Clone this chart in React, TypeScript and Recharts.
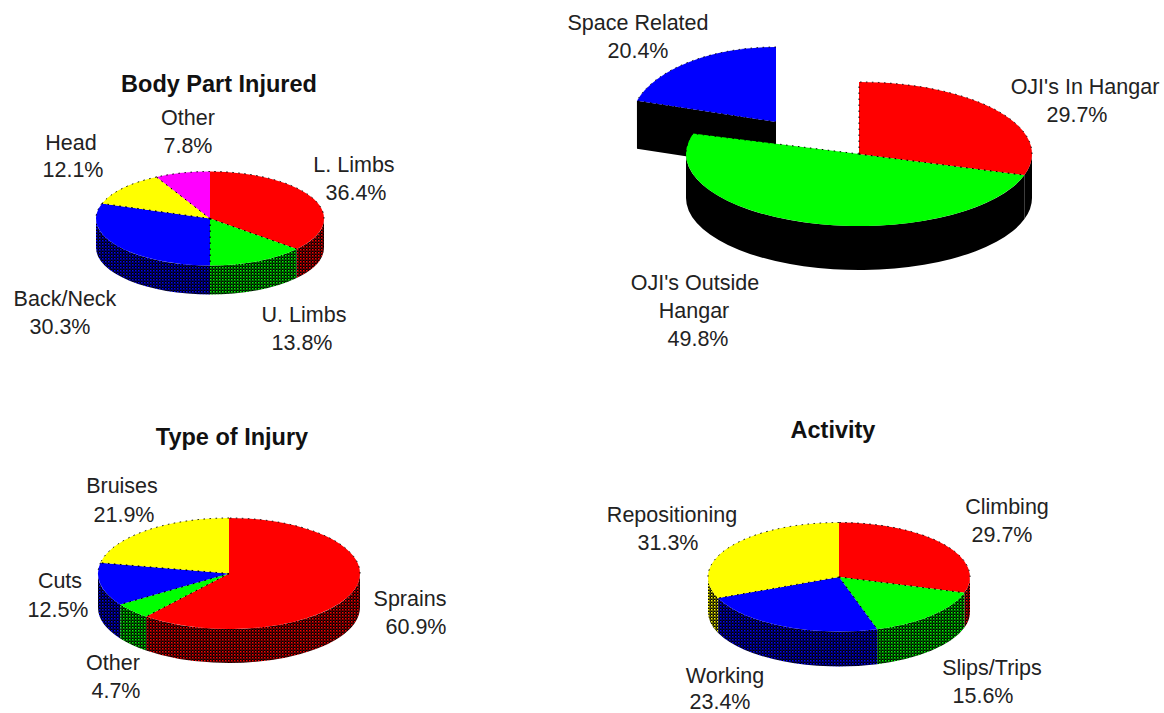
import { PieChart, Pie } from 'recharts';

const RED = '#ff0000';
const GREEN = '#00ff00';
const BLUE = '#0000ff';
const YELLOW = '#ffff00';
const MAGENTA = '#ff00ff';

// body part
const bodyNames = ['L. Limbs', 'U. Limbs', 'Back/Neck', 'Head', 'Other'];
const bodyValues = [36.4, 13.8, 30.3, 12.1, 7.8];
const bodyColors = [RED, GREEN, BLUE, YELLOW, MAGENTA];

// location, listed counter-clockwise so the exploded slice paints first
const placeNames = ['Space Related', "OJI's Outside\nHangar", "OJI's In Hangar"];
const placeValues = [20.4, 49.8, 29.7];
const placeColors = [BLUE, GREEN, RED];

// type of injury
const typeNames = ['Sprains', 'Other', 'Cuts', 'Bruises'];
const typeValues = [60.9, 4.7, 12.5, 21.9];
const typeColors = [RED, GREEN, BLUE, YELLOW];

// activity
const activityNames = ['Climbing', 'Slips/Trips', 'Working', 'Repositioning'];
const activityValues = [29.7, 15.6, 23.4, 31.3];
const activityColors = [RED, GREEN, BLUE, YELLOW];

const rows = (names: string[], values: number[], colors: string[]) =>
  names.map((name, i) => ({ name, value: values[i], fill: colors[i] }));

const FONT = '"Liberation Sans", Arial, sans-serif';

// [centre x, baseline y] of every text line of a slice label
const bodyLabels = [
  [[354, 172], [356, 200]],
  [[304, 322], [302, 350]],
  [[65, 306], [60, 334]],
  [[71, 150], [73, 177]],
  [[188, 125], [188, 153]],
];
const placeLabels = [
  [[638, 30], [638, 58]],
  [[695, 290], [694, 318], [698, 346]],
  [[1085, 94], [1077, 122]],
];
const typeLabels = [
  [[410, 606], [416, 634]],
  [[113, 670], [116, 698]],
  [[60, 588], [58, 617]],
  [[122, 493], [124, 522]],
];
const activityLabels = [
  [[1007, 514], [1002, 542]],
  [[992, 675], [983, 703]],
  [[725, 683], [720, 709]],
  [[672, 522], [668, 550]],
];

const rad = (a: number) => (a * Math.PI) / 180;

// squashed pie slice with a side wall
function slice3d(ry: number, depth: number, solidWall: boolean, exploded?: Record<number, any>) {
  return (props: any) => {
    const ex = exploded?.[props.index];
    const cx = props.cx + (ex?.dx ?? 0);
    const cy = props.cy + (ex?.dy ?? 0);
    const rx = ex?.rx ?? props.outerRadius;
    const h = ex?.ry ?? ry;
    const d = ex?.depth ?? depth;
    const lo = Math.min(props.startAngle, props.endAngle);
    const hi = Math.max(props.startAngle, props.endAngle);
    const at = (a: number) => [cx + rx * Math.cos(rad(a)), cy - h * Math.sin(rad(a))];
    const [x0, y0] = at(lo);
    const [x1, y1] = at(hi);
    const top = `M${cx},${cy}L${x0},${y0}A${rx},${h} 0 ${hi - lo > 180 ? 1 : 0} 0 ${x1},${y1}Z`;
    const wallFill = solidWall ? '#000' : `url(#wall-${props.fill.slice(1)})`;

    const walls: string[] = [];
    let dots = '';
    for (let k = -2; k <= 2; k++) {
      const a = Math.max(lo, 180 + k * 360);
      const b = Math.min(hi, 360 + k * 360);
      if (b > a) {
        const [ax, ay] = at(a);
        const [bx, by] = at(b);
        const large = b - a > 180 ? 1 : 0;
        walls.push(
          `M${ax},${ay}A${rx},${h} 0 ${large} 0 ${bx},${by}L${bx},${by + d}A${rx},${h} 0 ${large} 1 ${ax},${ay + d}Z`,
        );
      }
      // rear rim gets the dotted edge
      const p = Math.max(lo, k * 360);
      const q = Math.min(hi, 180 + k * 360);
      if (q > p) {
        const [px, py] = at(p);
        const [qx, qy] = at(q);
        dots += `M${px},${py}A${rx},${h} 0 0 0 ${qx},${qy}`;
      }
    }
    if (ex) {
      walls.push(`M${cx},${cy}L${x1},${y1}L${x1},${y1 + d}L${cx},${cy + d}Z`);
    }
    // radial edges, except the clean one at twelve o'clock
    [lo, hi].forEach((a) => {
      if (((a % 360) + 360) % 360 === 90) return;
      const [x, y] = at(a);
      dots += `M${cx},${cy}L${x},${y}`;
    });

    return (
      <g>
        {walls.map((w, i) => (
          <path key={i} d={w} fill={wallFill} stroke="none" />
        ))}
        <path d={top} fill={props.fill} stroke="none" />
        <path d={dots} fill="none" stroke="#000" strokeWidth={1} strokeDasharray="1.5 4.5" />
      </g>
    );
  };
}

function labelAt(positions: number[][][]) {
  return (props: any) => {
    const lines = [...String(props.name).split('\n'), `${props.value}%`];
    return (
      <g>
        {lines.map((line, i) => (
          <text
            key={i}
            x={positions[props.index][i][0]}
            y={positions[props.index][i][1]}
            textAnchor="middle"
            fontFamily={FONT}
            fontSize={21.5}
            fill="#222"
          >
            {line}
          </text>
        ))}
      </g>
    );
  };
}

const titleStyle = { fontFamily: FONT, fontSize: 23.5, fontWeight: 700, fill: '#111' };

export default function App() {
  return (
    <div style={{ position: 'absolute', left: 0, top: 0, background: '#fff' }}>
      <PieChart width={1164} height={713} margin={{ top: 0, right: 0, bottom: 0, left: 0 }}>
        <defs>
          {[RED, GREEN, BLUE, YELLOW, MAGENTA].map((c) => (
            <pattern key={c} id={`wall-${c.slice(1)}`} width={3} height={3} patternUnits="userSpaceOnUse">
              <rect width={3} height={3} fill="#000" />
              <rect x={0} y={0} width={1.5} height={1.5} fill={c} />
              <rect x={1.5} y={1.5} width={1} height={1} fill={c} />
            </pattern>
          ))}
        </defs>

        <text x={219} y={92} textAnchor="middle" style={titleStyle}>Body Part Injured</text>
        <text x={232} y={445} textAnchor="middle" style={titleStyle}>Type of Injury</text>
        <text x={833} y={438} textAnchor="middle" style={titleStyle}>Activity</text>

        <Pie
          data={rows(bodyNames, bodyValues, bodyColors)}
          dataKey="value"
          cx={210}
          cy={218.5}
          outerRadius={114}
          startAngle={90}
          endAngle={-270}
          shape={slice3d(47, 29, false)}
          label={labelAt(bodyLabels)}
          labelLine={false}
          isAnimationActive={false}
        />
        <Pie
          data={rows(placeNames, placeValues, placeColors)}
          dataKey="value"
          cx={859}
          cy={154}
          outerRadius={173}
          startAngle={90}
          endAngle={450}
          shape={slice3d(72, 44, true, { 0: { dx: -83, dy: -32, rx: 145, ry: 75, depth: 48 } })}
          label={labelAt(placeLabels)}
          labelLine={false}
          isAnimationActive={false}
        />
        <Pie
          data={rows(typeNames, typeValues, typeColors)}
          dataKey="value"
          cx={229}
          cy={573.5}
          outerRadius={131}
          startAngle={90}
          endAngle={-270}
          shape={slice3d(55.5, 34, false)}
          label={labelAt(typeLabels)}
          labelLine={false}
          isAnimationActive={false}
        />
        <Pie
          data={rows(activityNames, activityValues, activityColors)}
          dataKey="value"
          cx={839}
          cy={577}
          outerRadius={131}
          startAngle={90}
          endAngle={-270}
          shape={slice3d(54.5, 35, false)}
          label={labelAt(activityLabels)}
          labelLine={false}
          isAnimationActive={false}
        />
      </PieChart>
    </div>
  );
}
